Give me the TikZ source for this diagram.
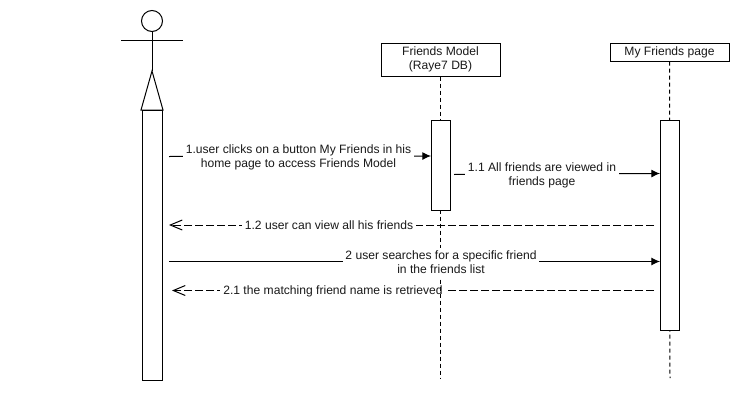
\documentclass[tikz,border=0pt]{standalone}
\usepackage{fontspec}
\setmainfont{Liberation Sans}
\usetikzlibrary{arrows.meta}
\newcommand{\lblfont}{\fontsize{9.08}{10.4}\selectfont}
\tikzset{
  x=0.75pt,y=-0.75pt,
  every path/.style={line width=0.75pt},
  box/.style={draw,fill=white,rectangle,inner sep=0pt,anchor=north west},
  msglabel/.style={fill=white,font=\lblfont,align=center,inner sep=2.2pt,text=black!90},
  headtext/.style={font=\lblfont,align=center,inner sep=0pt,text=black!90},
  lifeline/.style={dash pattern=on 3pt off 2.25pt},
  call/.style={-{Latex[length=6.5pt,width=6pt]}},
  reply/.style={dash pattern=on 6pt off 2.25pt,-{Straight Barb[length=9pt,width=7.5pt]}},
}
\begin{document}
\begin{tikzpicture}
\useasboundingbox (0,0) rectangle (751,400);
% actor
\node (head) [draw,circle,minimum size=15.75pt,inner sep=0pt] at (152,21) {};
\coordinate (armL) at (121,40.5);
\coordinate (armR) at (183,40.5);
\coordinate (hip) at (152,71);
\coordinate (legL) at (141,110);
\coordinate (legR) at (163,110);
\draw (armL) -- (armR);
\draw (head.south) -- (hip);
\draw (legL) -- (hip) -- (legR) -- cycle;
\node (actorbar) [box,minimum width=15pt,minimum height=202.5pt] at (141.5,109.5) {};
% heads
\node (fm) [box,minimum width=89.25pt,minimum height=24.75pt] at (380.5,42.5) {};
\node at (fm.center) [headtext] {Friends Model\\(Raye7 DB)};
\node (fp) [box,minimum width=89.25pt,minimum height=13.5pt] at (609.5,42.5) {};
\node at (fp.center) [headtext] {My Friends page};
% lifeline ends and message ends
\coordinate (fmEnd) at (440.5,378);
\coordinate (fpEnd) at (670,378);
\coordinate (m1a) at (169,156.5);
\coordinate (m1b) at (431,156);
\coordinate (m11a) at (454,174.5);
\coordinate (m11b) at (660,173.5);
\coordinate (m12a) at (654,225);
\coordinate (m12b) at (169,225);
\coordinate (m2a) at (169,261.5);
\coordinate (m2b) at (660,261.5);
\coordinate (m21a) at (654,290.5);
\coordinate (m21b) at (172,290.5);
% messages
\draw[reply] (m21a) -- (m21b);
\node (l21) [msglabel] at (333,291) {\phantom{2.1 the matching friend name is retrieved}};
\draw[reply] (m12a) -- (m12b);
% lifelines
\draw[lifeline] (fm.south) -- (fmEnd);
\draw[lifeline] (fp.south) -- (fpEnd);
\node (l21t) [msglabel,fill=none] at (333,291) {2.1 the matching friend name is retrieved};
% activations
\node (fmact) [box,minimum width=14.25pt,minimum height=67.5pt] at (430.5,119.5) {};
\node (fpact) [box,minimum width=14.25pt,minimum height=157.5pt] at (659.5,119.5) {};
\draw[call] (m1a) -- (m1b);
\draw[call] (m11a) -- (m11b);
\draw[call] (m2a) -- (m2b);
\node (l1) [msglabel] at (298.5,157.5) {1.user clicks on a button My Friends in his\\home page to access Friends Model};
\node (l11) [msglabel] at (542,175.5) {1.1 All friends are viewed in\\friends page};
\node (l12) [msglabel] at (329,225.5) {1.2 user can view all his friends};
\node (l2) [msglabel] at (441,262.5) {2 user searches for a specific friend\\in the friends list};
\end{tikzpicture}
\end{document}
